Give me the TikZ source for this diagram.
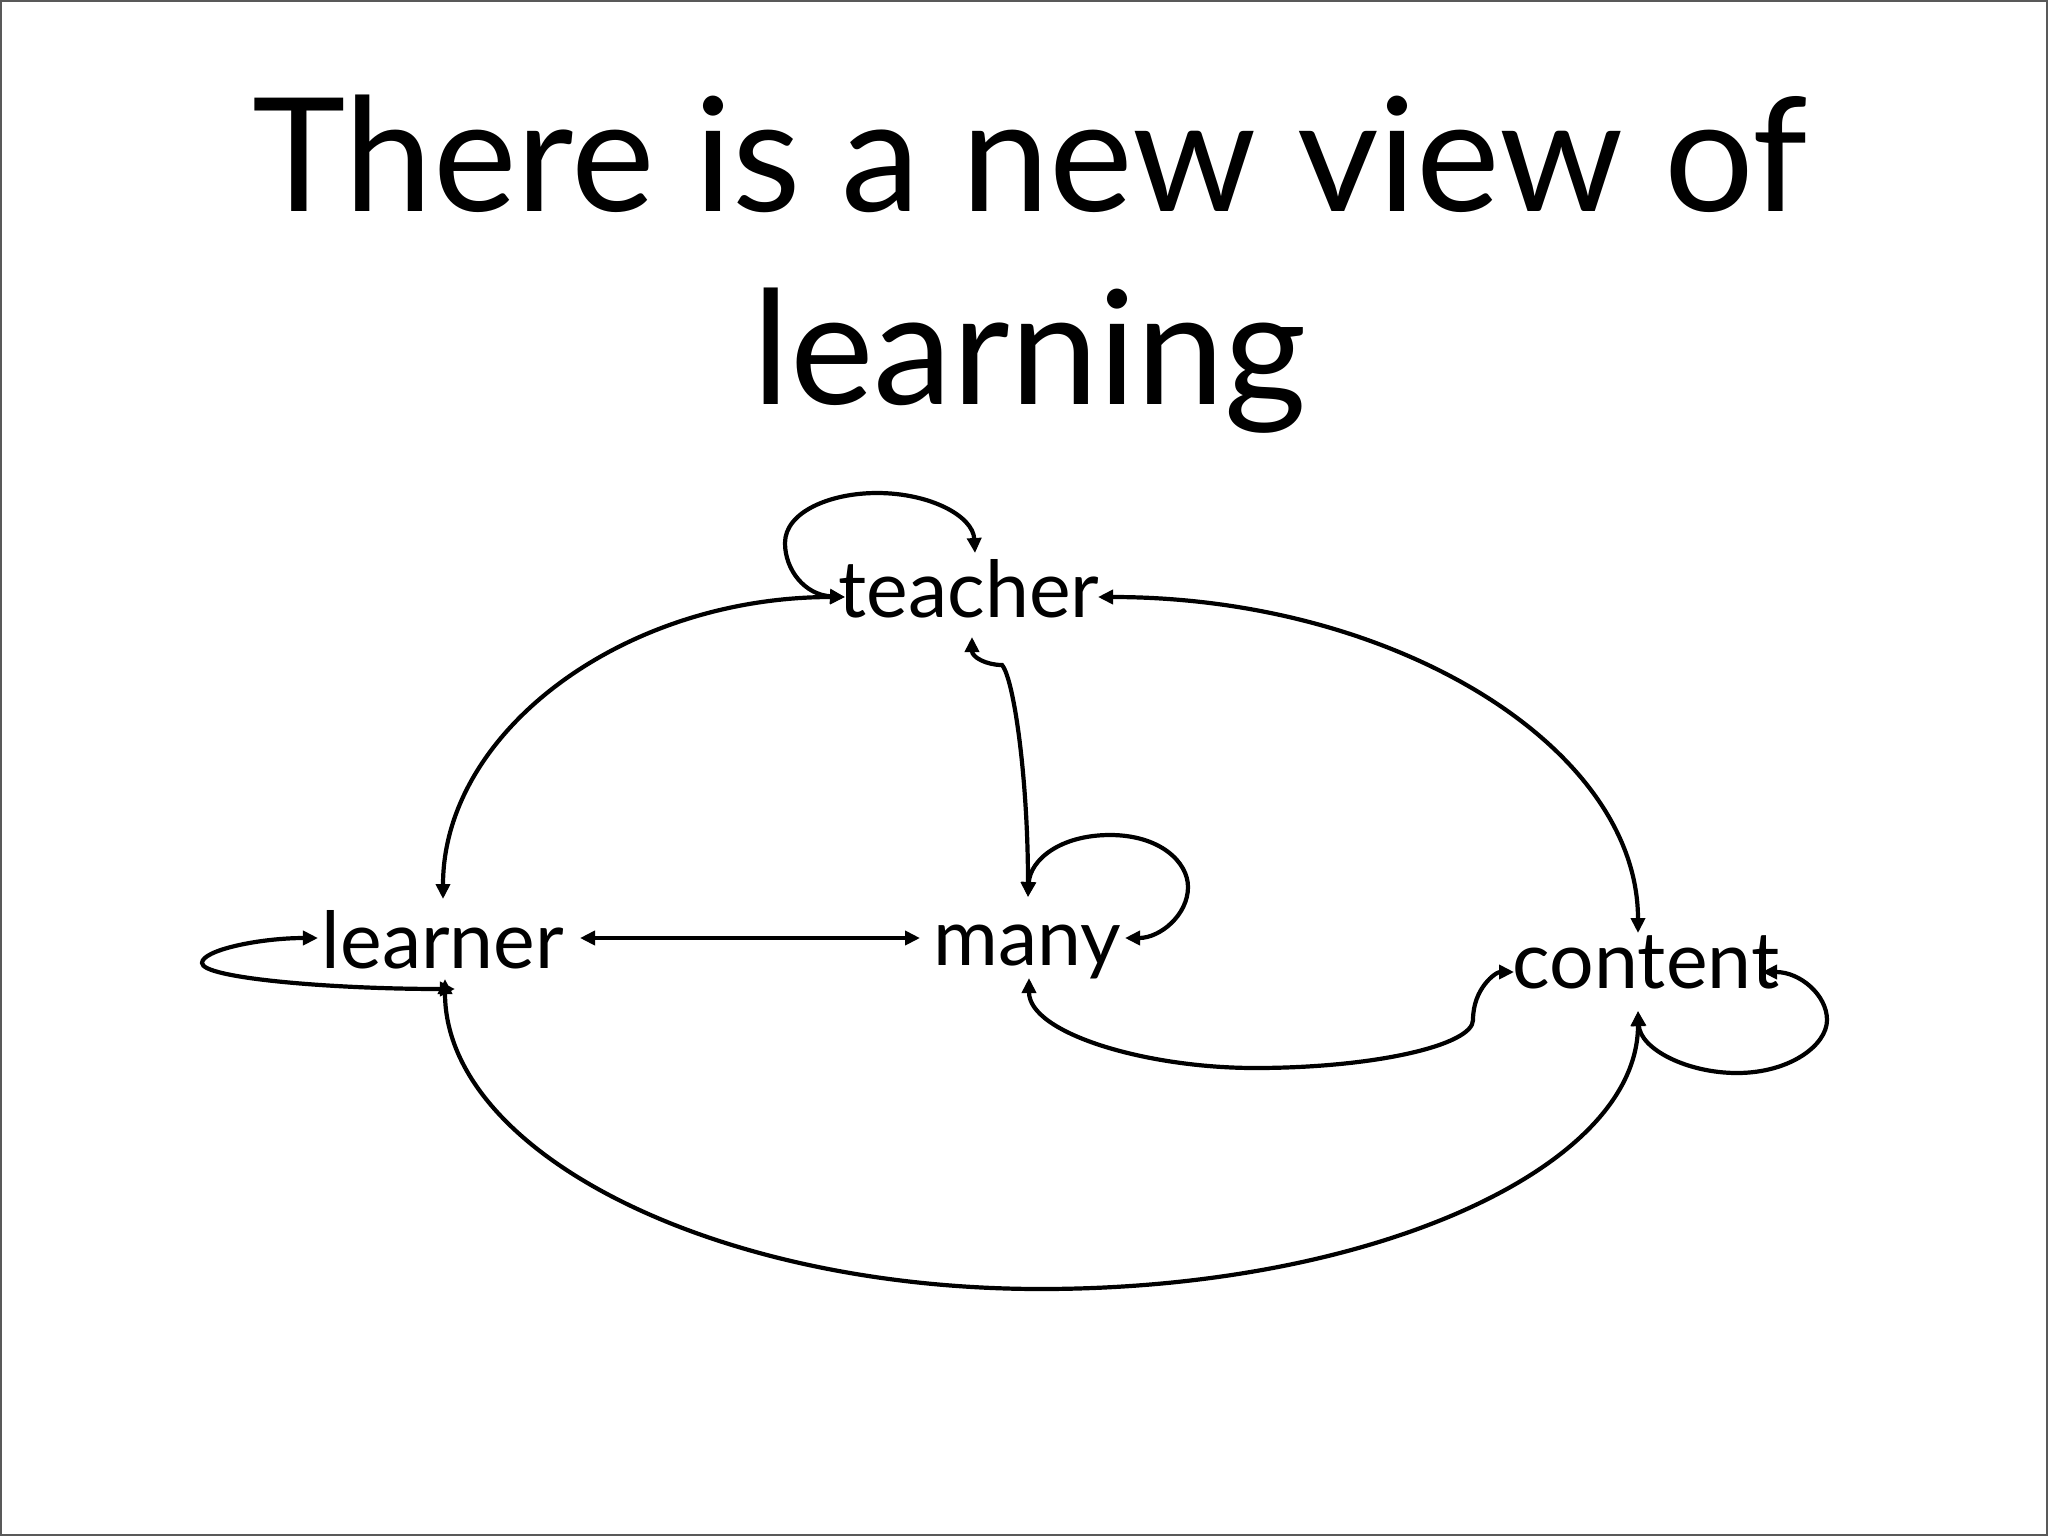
\documentclass[tikz,border=0pt]{standalone}
\usepackage{fontspec}
\setmainfont{Lato}
\usetikzlibrary{arrows.meta,calc}

\begin{document}
\begin{tikzpicture}[x=0.01cm,y=-0.01cm,
    link/.style={line width=0.042cm,{Triangle[length=0.15cm,width=0.14cm]}-{Triangle[length=0.15cm,width=0.14cm]}},
    word/.style={font=\fontsize{22.4}{26}\selectfont,inner sep=0pt,anchor=base}]
    \useasboundingbox (0,0) rectangle (2048,1536);
    \fill[white] (0,0) rectangle (2048,1536);
    \draw[line width=0.04cm,black!65] (0,0) rectangle (2048,1536);

    \node[font=\fontsize{45}{55}\selectfont,align=center,anchor=north,inner sep=0pt] (title) at (1030,94)
        {There is a new view of\\learning};

    \node[word] (teacher) at (969,617) {teacher};
    \node[word] (learner) at (443,968) {learner};
    \node[word] (many) at (1027,965) {many};
    \node[word] (content) at (1646,988) {content};

    % ports
    \coordinate (teacher-w) at ($ (teacher.base) + (-124,-20) $);
    \coordinate (teacher-e) at ($ (teacher.base) + (129,-20) $);
    \coordinate (teacher-n) at ($ (teacher.base) + (6,-64) $);
    \coordinate (teacher-s) at ($ (teacher.base) + (3,20) $);
    \coordinate (learner-n) at ($ (learner.base) + (0,-69) $);
    \coordinate (learner-e) at ($ (learner.base) + (137,-30) $);
    \coordinate (learner-w) at ($ (learner.base) + (-125,-30) $);
    \coordinate (learner-s) at ($ (learner.base) + (2,11) $);
    \coordinate (learner-loop) at ($ (learner.base) + (12,21) $);
    \coordinate (many-w) at ($ (many.base) + (-107,-27) $);
    \coordinate (many-n) at ($ (many.base) + (1,-68) $);
    \coordinate (many-e) at ($ (many.base) + (98,-27) $);
    \coordinate (many-s) at ($ (many.base) + (2,13) $);
    \coordinate (content-n) at ($ (content.base) + (-8,-55) $);
    \coordinate (content-w) at ($ (content.base) + (-132,-16) $);
    \coordinate (content-e) at ($ (content.base) + (116,-16) $);
    \coordinate (content-s) at ($ (content.base) + (-8,23) $);
    \coordinate (tm-bend) at ($ (teacher-s) + (30,28) $);

    \draw[link] (learner-n) .. controls +(0,-167) and +(-222,0) .. (teacher-w);
    \draw[link] (teacher-e) .. controls +(298,0) and +(0,-185) .. (content-n);
    \draw[link] (teacher-s) .. controls +(0,20) and +(-16,0) .. (tm-bend)
        .. controls +(12,14) and +(0,-118) .. (many-n);
    \draw[link] (learner-e) -- (many-w);
    \draw[link] (learner-s) .. controls +(0,172) and +(-330,0) .. (1041,1289)
        .. controls +(330,0) and +(0,157) .. (content-s);
    \draw[link] (many-s) .. controls +(0,55) and +(-110,0) .. (1255,1068)
        .. controls +(120,0) and +(0,25) .. (1473,1020)
        .. controls +(0,-32) and +(-18,0) .. (content-w);

    % self loops
    \draw[link] (teacher-w) .. controls +(-40,-2) and +(0,27) .. (785,543)
        .. controls +(0,-31) and +(-47,0) .. (877,493)
        .. controls +(53,0) and +(-2,-37) .. (teacher-n);
    \draw[link] (many-n) .. controls +(2,-37) and +(-50,0) .. (1110,835)
        .. controls +(50,0) and +(0,-25) .. (1188,887)
        .. controls +(0,28) and +(35,0) .. (many-e);
    \draw[link] (learner-loop) .. controls +(-125,0) and +(0,15) .. (202,963)
        .. controls +(0,-13) and +(-58,0) .. (learner-w);
    \draw[link] (content-s) .. controls +(2,38) and +(-50,0) .. (1737,1073)
        .. controls +(53,0) and +(0,25) .. (1827,1020)
        .. controls +(0,-25) and +(38,0) .. (content-e);
\end{tikzpicture}
\end{document}
